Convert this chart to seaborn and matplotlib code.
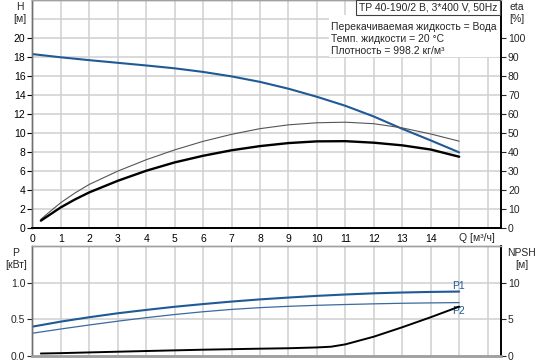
import matplotlib
matplotlib.use("Agg")
import matplotlib.pyplot as plt
import seaborn as sns

# ---------------- data ----------------
q_h = [0, 1, 2, 3, 4, 5, 6, 7, 8, 9, 10, 11, 12, 13, 14, 15]
head = [18.3, 17.96, 17.66, 17.38, 17.1, 16.8, 16.42, 15.95, 15.37, 14.65, 13.8, 12.85, 11.72, 10.42, 9.2, 7.94]

q_eta = [0.3, 0.5, 1, 1.5, 2, 3, 4, 5, 6, 7, 8, 9, 10, 11, 12, 13, 14, 15]
eta_pump = [4.4, 7.0, 13.2, 18.3, 22.8, 29.8, 35.8, 41.0, 45.5, 49.2, 52.2, 54.2, 55.3, 55.6, 54.8, 52.6, 49.4, 45.6]
eta_total = [3.7, 5.7, 10.7, 14.9, 18.6, 24.7, 30.0, 34.4, 37.9, 40.8, 43.0, 44.6, 45.5, 45.6, 44.8, 43.4, 41.2, 37.4]

q_p = [0, 1, 2, 3, 4, 5, 6, 7, 8, 9, 10, 11, 12, 13, 14, 15]
p1 = [0.397, 0.466, 0.526, 0.58, 0.626, 0.669, 0.706, 0.74, 0.77, 0.795, 0.818, 0.837, 0.853, 0.864, 0.872, 0.877]
p2 = [0.307, 0.365, 0.42, 0.472, 0.52, 0.563, 0.601, 0.633, 0.657, 0.675, 0.689, 0.70, 0.709, 0.717, 0.722, 0.726]

q_npsh = [0.3, 1, 2, 4, 6, 8, 9, 10, 10.5, 11, 12, 13, 14, 15]
npsh = [0.3, 0.35, 0.45, 0.64, 0.82, 0.96, 1.02, 1.13, 1.23, 1.55, 2.6, 3.89, 5.26, 6.71]

q_ticks = list(range(0, 15))
h_ticks = list(range(0, 21, 2))
eta_ticks = list(range(0, 101, 10))
p_ticks = [0.0, 0.5, 1.0]
npsh_ticks = [0, 5, 10]

title_text = "TP 40-190/2 B, 3*400 V, 50Hz"
info_lines = ["Перекачиваемая жидкость = Вода",
              "Темп. жидкости = 20 °C",
              "Плотность = 998.2 кг/м³"]

# ---------------- style ----------------
sns.set_style("white")
plt.rcParams['font.family'] = ['Liberation Sans', 'DejaVu Sans']
plt.rcParams['font.size'] = 7.5

BLUE = "#1f5a96"
GRID = "#d0d0d0"
W, H = 541, 364
fig = plt.figure(figsize=(W / 100, H / 100), dpi=100)

def fx(px):
    return px / W

def fy(py):
    return 1 - py / H

left, right = 32.3, 501.0
ax = fig.add_axes([fx(left), fy(227.7), fx(right - left), 227.7 / H])
axb = fig.add_axes([fx(left), fy(355.7), fx(right - left), (355.7 - 246) / H])

XMAX = 16.47

for a in (ax, axb):
    a.set_xlim(0, XMAX)
    for x in range(1, 17):
        a.axvline(x, color=GRID, lw=1.1, zorder=0)

# ---------------- top plot ----------------
ax.set_ylim(0, 24)
for y in range(2, 25, 2):
    ax.axhline(y, color=GRID, lw=1.1, zorder=0)

sns.lineplot(x=q_h, y=head, ax=ax, color=BLUE, lw=1.5, sort=False, zorder=4)
ax.set_xticks(q_ticks)
ax.set_xticklabels([str(t) for t in q_ticks])
ax.set_yticks(h_ticks)
ax.set_yticklabels([str(t) for t in h_ticks])
ax.tick_params(axis='both', direction='out', length=3.5, width=0.8, pad=1.5,
               colors='black', labelsize=7.5)
ax.tick_params(axis='x', pad=1.0)
ax.set_xlabel("")
ax.set_ylabel("")

ax2 = ax.twinx()
ax2.set_ylim(0, 120)
sns.lineplot(x=q_eta, y=eta_pump, ax=ax2, color="#555555", lw=0.8, sort=False, zorder=3)
sns.lineplot(x=q_eta, y=eta_total, ax=ax2, color="black", lw=1.7, sort=False, zorder=3)
ax2.set_yticks(eta_ticks)
ax2.set_yticklabels([str(t) for t in eta_ticks])
ax2.tick_params(axis='y', direction='out', length=3.5, width=0.8, pad=1.5, labelsize=7.5)
ax2.set_ylabel("")

for a in (ax, ax2):
    a.spines['left'].set_color("#707070")
    a.spines['left'].set_linewidth(1.0)
    a.spines['top'].set_color("#a0a0a0")
    a.spines['top'].set_linewidth(1.0)
    a.spines['right'].set_color("black")
    a.spines['right'].set_linewidth(1.2)
    a.spines['bottom'].set_color("black")
    a.spines['bottom'].set_linewidth(1.3)

fig.text(fx(20), fy(7), "H", ha='center', va='center', fontsize=7.5)
fig.text(fx(20), fy(19), "[м]", ha='center', va='center', fontsize=7.5)
fig.text(fx(509), fy(7), "eta", ha='left', va='center', fontsize=7.5)
fig.text(fx(509), fy(19), "[%]", ha='left', va='center', fontsize=7.5)
fig.text(fx(476.5), fy(237.7), "Q [м³/ч]", ha='center', va='center', fontsize=7.5)

# info box
fig.patches.append(matplotlib.patches.Rectangle((fx(329), fy(57)), fx(500 - 329), (57 - 15) / H,
                   transform=fig.transFigure, facecolor='white', edgecolor='none', zorder=5))
fig.patches.append(matplotlib.patches.Rectangle((fx(356), fy(15)), fx(500 - 356), 15 / H,
                   transform=fig.transFigure, facecolor='white', edgecolor='#404040', lw=0.8, zorder=5))
fig.text(fx(359), fy(8), title_text, ha='left', va='center', fontsize=7.5, zorder=6)
for i, line in enumerate(info_lines):
    fig.text(fx(331), fy(26.7 + 12.2 * i), line, ha='left', va='center', fontsize=7.5, zorder=6)

# ---------------- bottom plot ----------------
axb.set_ylim(0, 1.5)
for y in (0.5, 1.0):
    axb.axhline(y, color=GRID, lw=1.1, zorder=0)
sns.lineplot(x=q_p, y=p1, ax=axb, color=BLUE, lw=1.5, sort=False, zorder=4)
sns.lineplot(x=q_p, y=p2, ax=axb, color="#3a6aa0", lw=0.9, sort=False, zorder=4)
axb.set_xticks(q_ticks)
axb.set_xticklabels([])
axb.tick_params(axis='x', length=0)
axb.set_yticks(p_ticks)
axb.set_yticklabels(["0.0", "0.5", "1.0"])
axb.tick_params(axis='y', direction='out', length=3.5, width=0.8, pad=1.5, labelsize=7.5)
axb.set_ylabel("")
axb.set_xlabel("")

axb2 = axb.twinx()
axb2.set_ylim(0, 15)
sns.lineplot(x=q_npsh, y=npsh, ax=axb2, color="black", lw=1.4, sort=False, zorder=4)
axb2.set_yticks(npsh_ticks)
axb2.set_yticklabels([str(t) for t in npsh_ticks])
axb2.tick_params(axis='y', direction='out', length=3.5, width=0.8, pad=1.5, labelsize=7.5)
axb2.set_ylabel("")

for a in (axb, axb2):
    a.spines['left'].set_color("#707070")
    a.spines['left'].set_linewidth(1.0)
    a.spines['top'].set_color("#a0a0a0")
    a.spines['top'].set_linewidth(1.0)
    a.spines['right'].set_color("black")
    a.spines['right'].set_linewidth(1.2)
    a.spines['bottom'].set_color("#a0a0a0")
    a.spines['bottom'].set_linewidth(1.8)

axb.text(14.75, 0.959, "P1", color=BLUE, fontsize=7.5, ha='left', va='center')
axb.text(14.75, 0.612, "P2", color=BLUE, fontsize=7.5, ha='left', va='center')

fig.text(fx(16), fy(253), "P", ha='center', va='center', fontsize=7.5)
fig.text(fx(16.5), fy(264.5), "[кВт]", ha='center', va='center', fontsize=7.5)
fig.text(fx(521.5), fy(253), "NPSH", ha='center', va='center', fontsize=7.5)
fig.text(fx(521.5), fy(264.5), "[м]", ha='center', va='center', fontsize=7.5)

fig.savefig("out.png", dpi=100)
